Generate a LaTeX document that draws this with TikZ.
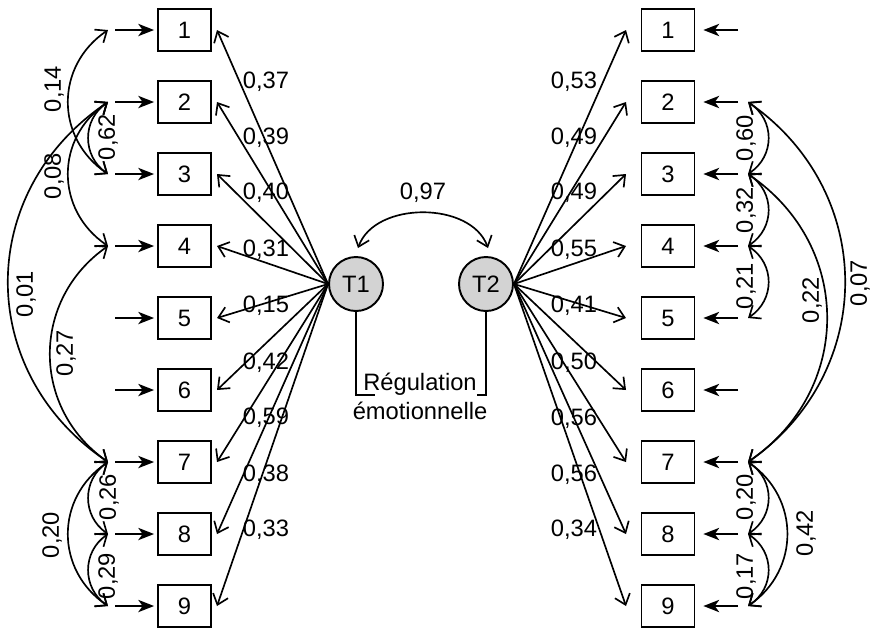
\documentclass[tikz,border=0pt]{standalone}
\usepackage{fontspec}
\setmainfont{Liberation Sans}
\usetikzlibrary{arrows.meta}
\definecolor{latgray}{HTML}{D3D3D3}
\begin{document}
\begin{tikzpicture}[x=0.02cm,y=-0.02cm,
  every node/.style={font=\fontsize{13.5}{16}\selectfont},
  box/.style={draw, line width=1.1pt, minimum width=1.06cm, minimum height=0.84cm, inner sep=0pt},
  lat/.style={draw, circle, fill=latgray, line width=1.1pt, minimum size=1.08cm, inner sep=0pt},
  lbl/.style={inner sep=0pt},
  rlbl/.style={inner sep=0pt, rotate=90},
  load/.style={line width=0.95pt, -{Straight Barb[length=5.5pt,width=9pt]}},
  cov/.style={line width=0.95pt, {Straight Barb[length=5.5pt,width=9pt]}-{Straight Barb[length=5.5pt,width=9pt]}},
  err/.style={line width=1.05pt, -{Stealth[length=9pt,width=7pt,inset=2.5pt]}},
]
\useasboundingbox (0,0) rectangle (872,627);

% latent variables
\node[lat] (T1) at (356,284) {T1};
\node[lat] (T2) at (486,284) {T2};

% boxes, errors, loadings
\foreach \i in {1,...,9}{
  \pgfmathsetmacro\yy{30+72*(\i-1)}
  \node[box] (L\i) at (184.5,\yy) {\i};
  \node[box] (R\i) at (668,\yy) {\i};
  \coordinate (eL\i) at (115,\yy);
  \coordinate (eR\i) at (738,\yy);
  \coordinate (tL\i) at (217,\yy);
  \coordinate (tR\i) at (626,\yy);
  \coordinate (cL\i) at (108,\yy);
  \coordinate (cR\i) at (748,\yy);
  \draw[err, shorten >=1.7pt] (eL\i) -- (L\i.west);
  \draw[err, shorten >=4.5pt] (eR\i) -- (R\i.east);
  \draw[load] (T1.west) -- (tL\i);
  \draw[load] (T2.east) -- (tR\i);
}

% loading labels
\foreach \v/\y [count=\k] in {{0,37}/82, {0,39}/138, {0,40}/193, {0,31}/250, {0,15}/306, {0,42}/363, {0,59}/418, {0,38}/475, {0,33}/530}{
  \node[lbl] (ll\k) at (266,\y) {\v};
}
\foreach \v/\y [count=\k] in {{0,53}/82, {0,49}/138, {0,49}/193, {0,55}/250, {0,41}/306, {0,50}/363, {0,56}/419, {0,56}/475, {0,34}/530}{
  \node[lbl] (rl\k) at (574,\y) {\v};
}

% left covariances
\draw[cov] (cL1) .. controls +(-53,36) and +(-53,-36) .. (cL3);
\draw[cov] (cL2) .. controls +(-26,18) and +(-26,-18) .. (cL3);
\draw[cov] (cL2) .. controls +(-53,36) and +(-53,-36) .. (cL4);
\draw[cov] (cL2) .. controls +(-133,90) and +(-133,-90) .. (cL7);
\draw[cov] (cL4) .. controls +(-77,54) and +(-77,-54) .. (cL7);
\draw[cov] (cL7) .. controls +(-26,18) and +(-26,-18) .. (cL8);
\draw[cov] (cL7) .. controls +(-53,36) and +(-53,-36) .. (cL9);
\draw[cov] (cL8) .. controls +(-26,18) and +(-26,-18) .. (cL9);

\node[rlbl] (c14) at (54,89) {0,14};
\node[rlbl] (c62) at (108,137) {0,62};
\node[rlbl] (c08) at (54,176) {0,08};
\node[rlbl] (c01) at (26,294) {0,01};
\node[rlbl] (c27) at (66,353) {0,27};
\node[rlbl] (c26) at (109,497) {0,26};
\node[rlbl] (c20) at (52,535) {0,20};
\node[rlbl] (c29) at (108,576) {0,29};

% right covariances
\draw[cov] (cR2) .. controls +(27,18) and +(27,-18) .. (cR3);
\draw[cov] (cR3) .. controls +(27,18) and +(27,-18) .. (cR4);
\draw[cov] (cR4) .. controls +(27,18) and +(27,-18) .. (cR5);
\draw[cov] (cR3) .. controls +(105,72) and +(105,-72) .. (cR7);
\draw[cov] (cR2) .. controls +(129,90) and +(129,-90) .. (cR7);
\draw[cov] (cR7) .. controls +(27,18) and +(27,-18) .. (cR8);
\draw[cov] (cR8) .. controls +(27,18) and +(27,-18) .. (cR9);
\draw[cov] (cR7) .. controls +(52,36) and +(52,-36) .. (cR9);

\node[rlbl] (d60) at (746,138) {0,60};
\node[rlbl] (d32) at (746,210) {0,32};
\node[rlbl] (d21) at (746,286) {0,21};
\node[rlbl] (d22) at (812,300) {0,22};
\node[rlbl] (d07) at (860,283) {0,07};
\node[rlbl] (d20) at (746,497) {0,20};
\node[rlbl] (d17) at (746,576) {0,17};
\node[rlbl] (d42) at (806,533) {0,42};

% latent correlation
\coordinate (a97) at (358,248);
\coordinate (b97) at (488,248);
\draw[cov] (a97) .. controls +(17,-47) and +(-17,-47) .. (b97);
\node[lbl] (l97) at (423,193) {0,97};

% bracket and label
\coordinate (brL) at (375,395);
\coordinate (brR) at (477,395);
\draw[line width=1.05pt] (T1.south) |- (brL);
\draw[line width=1.05pt] (T2.south) |- (brR);
\node[lbl, anchor=base] (reg1) at (420,390) {Régulation};
\node[lbl, anchor=base] (reg2) at (420,419) {émotionnelle};
\end{tikzpicture}
\end{document}
